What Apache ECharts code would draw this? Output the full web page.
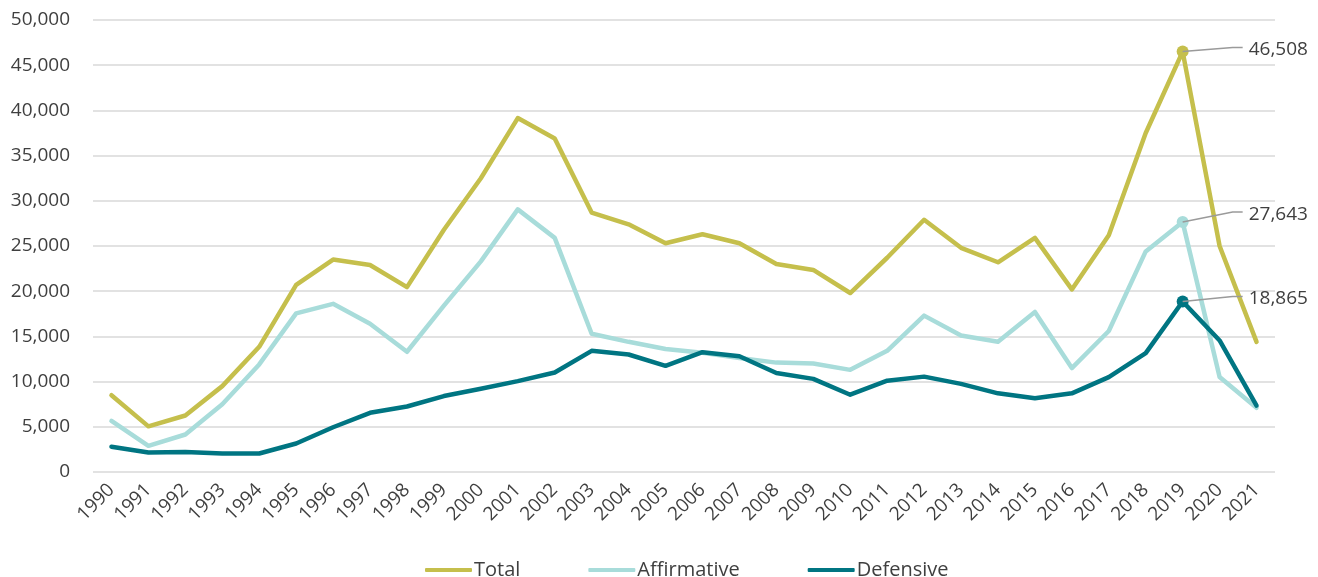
<!DOCTYPE html>
<html>
<head>
<meta charset="utf-8">
<script src="https://cdn.jsdelivr.net/npm/echarts@6/dist/echarts.min.js"></script>
<style>
  html, body { margin: 0; padding: 0; background: #ffffff; }
  #chart { width: 1318px; height: 577px; }
</style>
</head>
<body>
<div id="chart"></div>
<script>
const years = ['1990','1991','1992','1993','1994','1995','1996','1997','1998','1999','2000','2001','2002','2003','2004','2005','2006','2007','2008','2009','2010','2011','2012','2013','2014','2015','2016','2017','2018','2019','2020','2021'];

const total = [8500, 5050, 6250, 9500, 13850, 20700, 23500, 22900, 20450, 26800, 32500, 39150, 36900, 28700, 27400, 25300, 26300, 25300, 23000, 22350, 19800, 23700, 27900, 24800, 23200, 25900, 20200, 26200, 37500, 46508, 25000, 14400];

const affirmative = [5650, 2900, 4150, 7500, 11900, 17550, 18600, 16400, 13300, 18400, 23300, 29050, 25900, 15300, 14400, 13600, 13200, 12600, 12100, 12000, 11300, 13400, 17300, 15100, 14400, 17700, 11500, 15600, 24400, 27643, 10500, 7100];

const defensive = [2800, 2150, 2200, 2050, 2050, 3150, 4950, 6550, 7250, 8400, 9200, 10050, 11000, 13400, 13000, 11750, 13250, 12800, 10950, 10300, 8550, 10100, 10550, 9750, 8700, 8150, 8700, 10500, 13150, 18865, 14550, 7350];

const yTicks = { min: 0, max: 50000, interval: 5000 };
const highlightYear = '2019';

const FONT = '"Open Sans", "Noto Sans", sans-serif';
const TEXT = '#3F3F3F';

const seriesDefs = [
  { name: 'Total', data: total, color: '#C5BF4C', dy: -4 },
  { name: 'Affirmative', data: affirmative, color: '#A8DCDA', dy: -10 },
  { name: 'Defensive', data: defensive, color: '#007582', dy: -5 }
];

const hi = years.indexOf(highlightYear);

const chart = echarts.init(document.getElementById('chart'), null, { renderer: 'canvas' });

chart.setOption({
  animation: false,
  textStyle: { fontFamily: FONT },
  grid: { left: 93, right: 43, top: 20, bottom: 105, containLabel: false },
  legend: {
    left: 420,
    top: 555,
    icon: 'roundRect',
    itemWidth: 47,
    itemHeight: 4,
    itemGap: 68,
    textStyle: { fontSize: 20, color: TEXT, fontFamily: FONT, padding: [0, 0, 0, -3] },
    data: seriesDefs.map(s => s.name)
  },
  xAxis: {
    type: 'category',
    data: years,
    boundaryGap: true,
    axisLine: { show: false },
    axisTick: { show: false },
    axisLabel: {
      rotate: 45,
      interval: 0,
      margin: 15,
      fontSize: 19,
      color: TEXT,
      fontFamily: FONT
    }
  },
  yAxis: {
    type: 'value',
    min: yTicks.min,
    max: yTicks.max,
    interval: yTicks.interval,
    axisLine: { show: false },
    axisTick: { show: false },
    splitLine: { lineStyle: { color: '#D9D9D9', width: 1.5 } },
    axisLabel: {
      margin: 23,
      fontSize: 19,
      color: TEXT,
      fontFamily: FONT,
      formatter: v => v.toLocaleString('en-US')
    }
  },
  series: seriesDefs.map(s => ({
    name: s.name,
    type: 'line',
    color: s.color,
    symbol: 'none',
    showSymbol: true,
    lineStyle: { width: 4.5, color: s.color, cap: 'round', join: 'round' },
    itemStyle: { color: s.color },
    emphasis: { disabled: true },
    data: s.data.map((v, i) => i === hi ? { value: v, symbol: 'circle', symbolSize: 12 } : v)
  }))
});

// Annotations for the highlighted year, positioned through the chart's own scales
const graphics = [];
seriesDefs.forEach((s, i) => {
  const p = chart.convertToPixel({ seriesIndex: i }, [hi, s.data[hi]]);
  const ex = p[0] + 50, ey = p[1] + s.dy;
  graphics.push({
    type: 'polyline',
    silent: true,
    z: 100,
    shape: { points: [[p[0], p[1]], [ex, ey], [ex + 10, ey]] },
    style: { stroke: '#9A9A9A', lineWidth: 1.5, fill: null }
  });
  graphics.push({
    type: 'text',
    silent: true,
    z: 100,
    x: p[0] + 66,
    y: ey + 2,
    style: {
      text: s.data[hi].toLocaleString('en-US'),
      fontSize: 19,
      fontFamily: FONT,
      fill: TEXT,
      align: 'left',
      verticalAlign: 'middle'
    }
  });
});
chart.setOption({ graphic: graphics });
</script>
</body>
</html>
